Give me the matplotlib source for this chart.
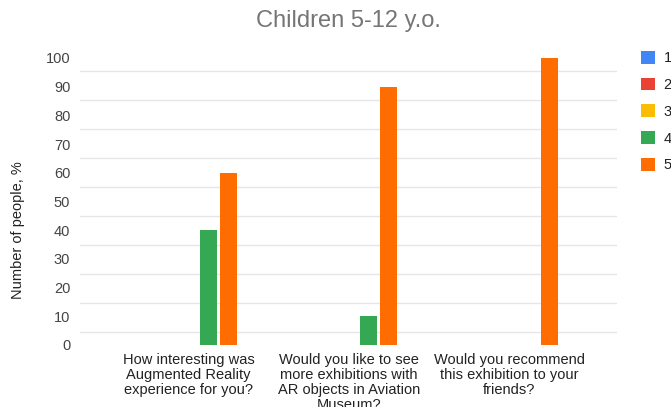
import numpy as np
import matplotlib
matplotlib.use("Agg")
import matplotlib.pyplot as plt

plt.rcParams['font.family'] = ['Liberation Sans', 'DejaVu Sans']

# survey answers, share of children per rating (%)
questions = [
    "How interesting was\nAugmented Reality\nexperience for you?",
    "Would you like to see\nmore exhibitions with\nAR objects in Aviation\nMuseum?",
    "Would you recommend\nthis exhibition to your\nfriends?",
]
ratings = ["1", "2", "3", "4", "5"]
score_1 = [0, 0, 0]
score_2 = [0, 0, 0]
score_3 = [0, 0, 0]
score_4 = [40, 10, 0]
score_5 = [60, 90, 100]
y_ticks = [0, 10, 20, 30, 40, 50, 60, 70, 80, 90, 100]

colors = ["#4285F4", "#EA4335", "#FBBC04", "#34A853", "#FF6D01"]
series = [score_1, score_2, score_3, score_4, score_5]

W, H = 671, 407
fs = 10.5
fig = plt.figure(figsize=(W / 100, H / 100), dpi=100)
ax = fig.add_axes([80 / W, (H - 345) / H, 537 / W, 290 / H])

x = np.arange(len(questions))
slot = 0.1246
width = 0.106
handles = []
for i, (vals, col) in enumerate(zip(series, colors)):
    b = ax.bar(x + (i - 2) * slot, vals, width=width, color=col,
               label=ratings[i], zorder=3)
    handles.append(b)

ax.set_xlim(-0.676, 2.67)
ax.set_ylim(0, 101.0)

# horizontal guide lines
for k in range(10):
    ax.axhline(4.5 + k * 10.1, color="#e6e6e6", lw=1, zorder=1)

for s in ax.spines.values():
    s.set_visible(False)

ax.set_yticks(y_ticks)
ax.set_yticklabels([str(t) for t in y_ticks])
ax.tick_params(axis="y", length=0, pad=7, labelsize=fs, labelcolor="#444444")
ax.set_xticks(x)
ax.set_xticklabels(questions, fontsize=fs, color="#222222", linespacing=1.07)
ax.tick_params(axis="x", length=0, pad=6)

fig.text(348 / W, 1 - 21 / H, "Children 5-12 y.o.", ha="center", va="center",
         fontsize=17, color="#757575")
fig.text(18 / W, 1 - 230 / H, "Number of people, %", rotation=90,
         ha="center", va="center", fontsize=fs, color="#222222")

fig.legend(handles=handles, loc="upper left",
           bbox_to_anchor=(641 / W, 1 - 51 / H), frameon=False,
           borderpad=0, borderaxespad=0, handlelength=0.96, handleheight=0.96,
           handletextpad=0.6, labelspacing=0.85, fontsize=fs,
           labelcolor="#222222")

fig.savefig("out.png", dpi=100)
